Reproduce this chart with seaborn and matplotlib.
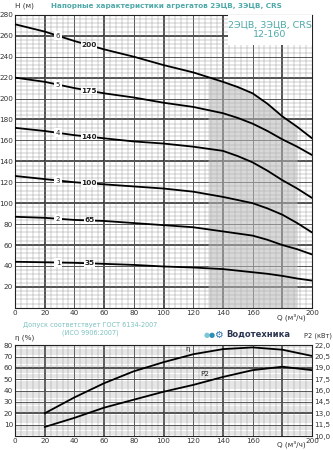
import matplotlib
matplotlib.use("Agg")
import matplotlib.pyplot as plt
import seaborn as sns
import numpy as np
import pandas as pd

# flow points (m3/h)
q = [0, 20, 40, 60, 80, 100, 120, 140, 150, 160, 170, 180, 190, 200]

# head curves H (m), one per model
h1 = [44, 43.5, 43, 42, 41, 39.5, 38.5, 37, 35.5, 34, 32.5, 30.5, 28, 26]
h2 = [87, 86, 84, 83, 81, 79, 77, 73, 71, 69, 65, 60, 56, 51]
h3 = [126, 123, 120, 118, 116, 114, 111, 106, 103, 100, 95, 89, 81, 72]
h4 = [172, 169, 165, 162, 159, 157, 154, 150, 145, 139, 131, 122, 114, 105]
h5 = [220, 216, 210, 205, 201, 196, 192, 186, 181.5, 176, 169, 161, 154, 146]
h6 = [271, 264, 255, 247, 240, 232, 225, 216, 211, 205, 195, 183, 173, 162]
curve_ids = ["1", "2", "3", "4", "5", "6"]
curve_tags = ["35", "65", "100", "140", "175", "200"]

# working zone (shaded)
zone_q = [130, 140, 150, 160, 170, 180, 190]
zone_h = [220.5, 216, 211, 205, 195, 183, 173]

# efficiency and power
q_low = [20, 40, 60, 80, 100, 120, 140, 160, 180, 200]
eta = [20, 34, 46.5, 57, 65, 72, 76.5, 78, 76, 70.5]
p2 = [11.2, 12.4, 13.75, 14.8, 15.85, 16.75, 17.8, 18.7, 19.15, 18.7]

teal = "#4fa9a9"
dark = "#222222"
fs = 5.2

sns.set_style("white")
plt.rcParams["font.family"] = ["DejaVu Sans"]

fig = plt.figure(figsize=(3.33, 4.5), dpi=100)
ax = fig.add_axes([0.045, 0.316, 0.892, 0.651])
ax2 = fig.add_axes([0.045, 0.031, 0.892, 0.202])


def paper_grid(a, ystep, ystep_minor, thick_y):
    lo, hi = a.get_ylim()
    a.set_xticks(np.arange(0, 201, 20))
    a.set_xticks(np.arange(0, 201, 4), minor=True)
    a.set_yticks(np.arange(lo, hi + 0.1, ystep))
    a.set_yticks(np.arange(lo, hi + 0.1, ystep_minor), minor=True)
    a.grid(which="minor", color="#9a9a9a", lw=0.35, zorder=0)
    a.grid(which="major", color="#555555", lw=0.7, zorder=0)
    for x in [20, 60, 100, 140, 180]:
        a.axvline(x, color="#222222", lw=1.1, zorder=0.5)
    for y in thick_y:
        a.axhline(y, color="#222222", lw=1.1, zorder=0.5)
    a.set_axisbelow(True)
    for s in a.spines.values():
        s.set_color("#222222")
        s.set_linewidth(0.8)
    a.tick_params(which="both", length=0, labelsize=fs, colors="#333333", pad=1.5)


# ---- top chart: heads ----
ax.set_xlim(0, 200)
ax.set_ylim(0, 280)
paper_grid(ax, 20, 4, [20, 60, 100, 140, 180, 220, 260])

ax.fill_between(zone_q, 0, zone_h, color="#b8b8b8", alpha=0.55, lw=0, zorder=1)

heads = [h1, h2, h3, h4, h5, h6]
for i, h in enumerate(heads):
    df = pd.DataFrame({"Q": q, "H": h})
    sns.lineplot(data=df, x="Q", y="H", ax=ax, color="black", lw=1.3, zorder=3)
    y_id = np.interp(29, q, h)
    y_tag = np.interp(50, q, h)
    ax.text(29, y_id, curve_ids[i], fontsize=5, ha="center", va="center", color=dark, zorder=4,
            bbox=dict(boxstyle="square,pad=0.2", fc="white", ec="none"))
    ax.text(50, y_tag, curve_tags[i], fontsize=5.3, fontweight="bold", ha="center", va="center",
            color=dark, zorder=4, bbox=dict(boxstyle="square,pad=0.05", fc="white", ec="none"))

ax.set_xlabel("")
ax.set_ylabel("")
ax.set_xticklabels([str(v) if v != 180 else "" for v in range(0, 201, 20)])
ax.set_yticklabels(["" if v == 0 else str(v) for v in range(0, 281, 20)])
ax.text(186, -9, "Q (м³/ч)", fontsize=fs, ha="center", va="center", color="#333333")

ax.add_patch(plt.Rectangle((143.5, 251), 56.5, 29, fc="white", ec="none", zorder=5))
ax.text(171.5, 265.5, "2ЭЦВ, 3ЭЦВ, CRS\n12-160", fontsize=6.8, color=teal, ha="center",
        va="center", linespacing=1.05, zorder=6)

fig.text(0.045, 0.987, "H (м)", fontsize=fs, color="#333333", ha="left", va="center")
fig.text(0.5, 0.987, "Напорные характеристики агрегатов 2ЭЦВ, 3ЭЦВ, CRS", fontsize=5.2,
         fontweight="bold", color=teal, ha="center", va="center")

# ---- bottom chart: efficiency and power ----
ax2.set_xlim(0, 200)
ax2.set_ylim(0, 80)
paper_grid(ax2, 10, 2, [20, 60])
sns.lineplot(x=q_low, y=eta, ax=ax2, color="black", lw=1.3, zorder=3)
ax2.text(116, 76.5, "η", fontsize=fs, color=dark, ha="center", va="center", zorder=4)
ax2.set_yticklabels(["" if v == 0 else str(v) for v in range(0, 81, 10)])
ax2.set_xticklabels([str(v) if v != 180 else "" for v in range(0, 201, 20)])
ax2.text(186, -7, "Q (м³/ч)", fontsize=fs, ha="center", va="center", color="#333333")

axp = ax2.twinx()
axp.set_ylim(10, 22)
sns.lineplot(x=q_low, y=p2, ax=axp, color="black", lw=1.3, zorder=3)
axp.text(128, 18.2, "P2", fontsize=fs, color=dark, ha="center", va="center")
axp.set_yticks(np.arange(10, 22.01, 1.5))
axp.set_yticklabels([f"{v:.1f}".replace(".", ",") for v in np.arange(10, 22.01, 1.5)])
axp.tick_params(length=0, labelsize=fs, colors="#333333", pad=1.5)
axp.set_ylabel("")
axp.grid(False)
for s in axp.spines.values():
    s.set_visible(False)

fig.text(0.045, 0.25, "η (%)", fontsize=fs, color="#333333", ha="left", va="center")
fig.text(0.998, 0.253, "P2 (кВт)", fontsize=4.8, color="#333333", ha="right", va="center")
fig.text(0.27, 0.27, "Допуск соответствует ГОСТ 6134-2007\n(ИСО 9906:2007)", fontsize=4.7,
         color="#7cc0c0", ha="center", va="center", linespacing=1.3)
fig.text(0.622, 0.256, "●", fontsize=5, color="#7cc7d6", ha="center", va="center")
fig.text(0.636, 0.256, "●", fontsize=5, color="#2f8fb8", ha="center", va="center")
fig.text(0.656, 0.256, "⚙", fontsize=7, color="#2a6fb0", ha="center", va="center")
fig.text(0.678, 0.256, "Водотехника", fontsize=6, fontweight="bold", color="#2b3550",
         ha="left", va="center")

fig.savefig("out.png", dpi=100)
